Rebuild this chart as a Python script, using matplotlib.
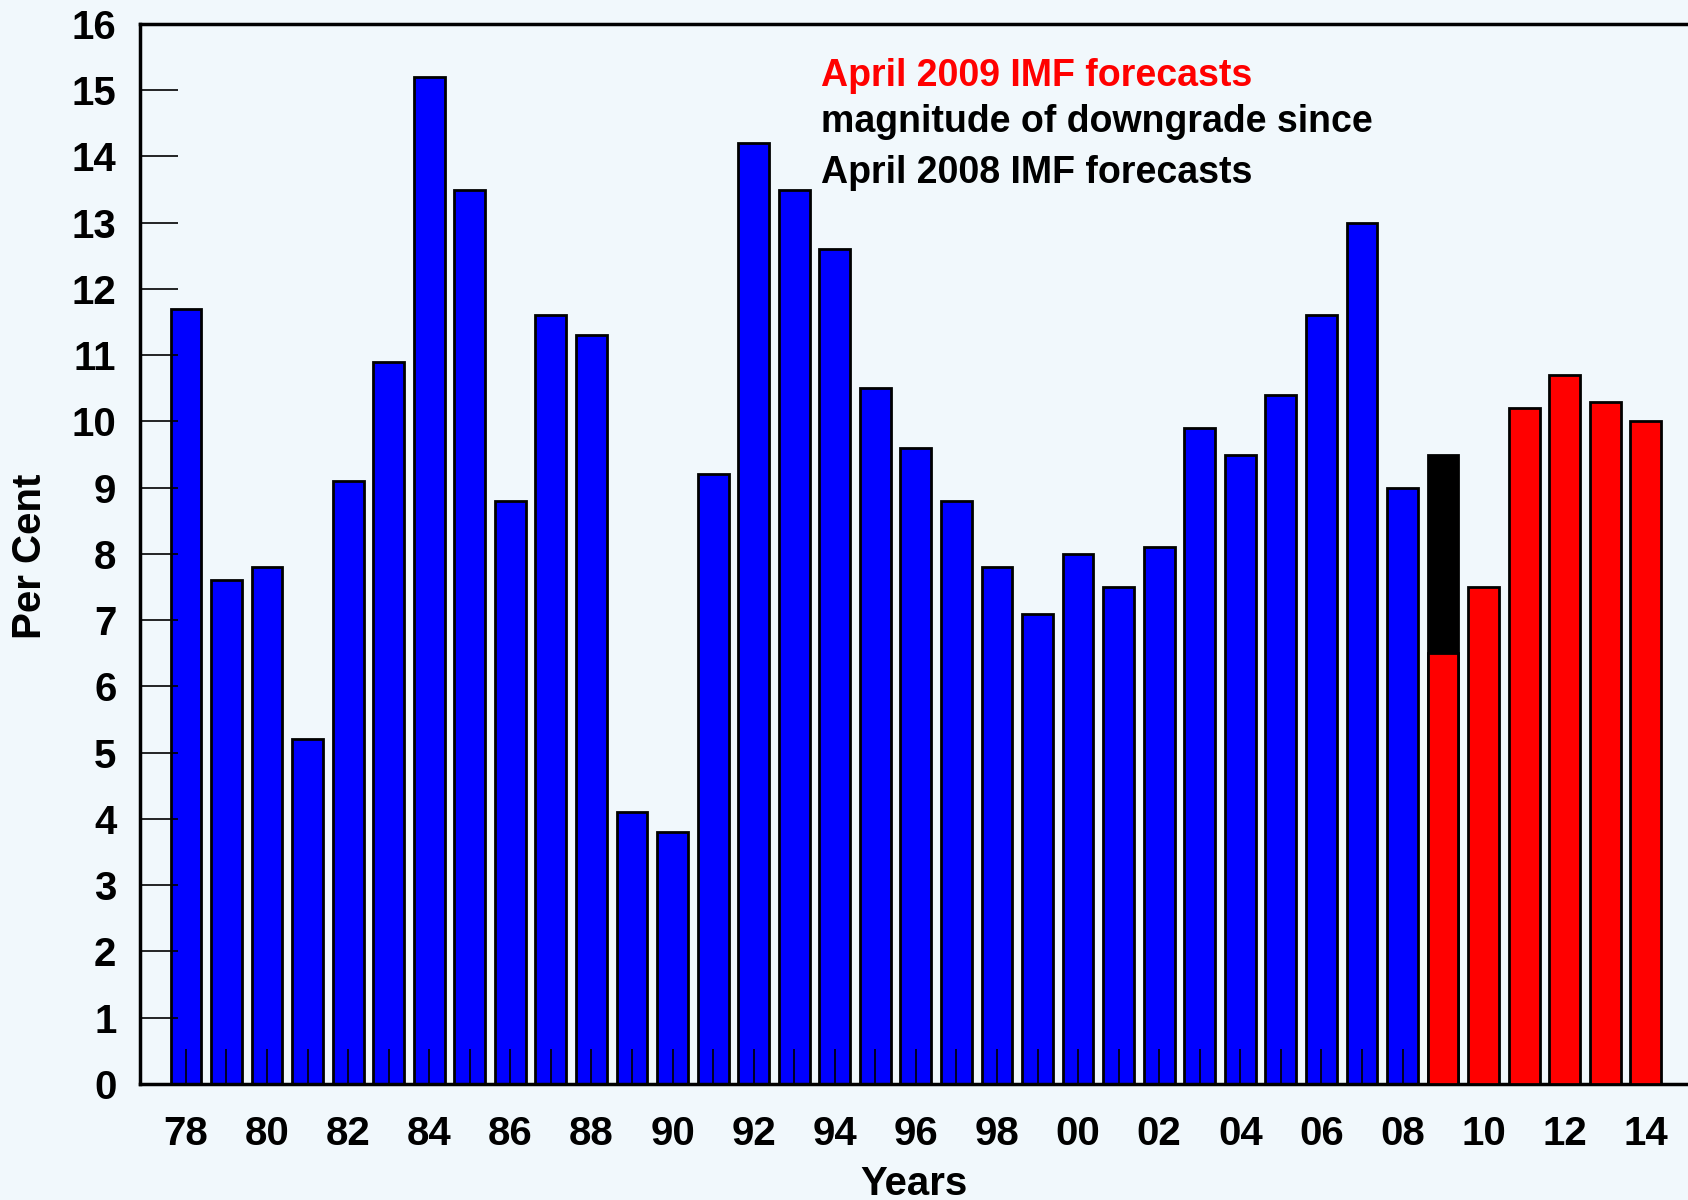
import numpy as np
import matplotlib.pyplot as plt

plt.rcParams['font.family'] = ['Liberation Sans', 'DejaVu Sans']
plt.rcParams['font.weight'] = 'bold'

# actual growth (blue) 1978-2008
years_actual = list(range(1978, 2009))
values_actual = [11.7, 7.6, 7.8, 5.2, 9.1, 10.9, 15.2, 13.5, 8.8, 11.6,
                 11.3, 4.1, 3.8, 9.2, 14.2, 13.5, 12.6, 10.5, 9.6, 8.8,
                 7.8, 7.1, 8.0, 7.5, 8.1, 9.9, 9.5, 10.4, 11.6, 13.0, 9.0]

# April 2009 IMF forecasts (red) 2009-2014
years_forecast = list(range(2009, 2015))
values_forecast = [6.5, 7.5, 10.2, 10.7, 10.3, 10.0]

# April 2008 IMF forecast for 2009 (downgrade shown in black)
year_old = 2009
value_old = 9.5

tick_years = list(range(1978, 2015, 2))
tick_labels = ['%02d' % (y % 100) for y in tick_years]

bg = '#f1f8fc'
fig = plt.figure(figsize=(16.88, 12), dpi=100, facecolor=bg)
ax = fig.add_axes([0.083, 0.0967, 0.917, 0.8833])
ax.set_facecolor(bg)

w = 0.76
ax.bar(years_actual, values_actual, width=w, color='#0000ff', edgecolor='black', linewidth=2, zorder=2)
ax.bar(year_old, value_old, width=w, color='black', edgecolor='black', linewidth=2, zorder=2)
ax.bar(years_forecast, values_forecast, width=w, color='#ff0000', edgecolor='black', linewidth=2, zorder=3)

ax.set_xlim(1976.87, 2015.04)
ax.set_ylim(0, 16)
ax.set_yticks(range(0, 17))
ax.set_xticks(tick_years)
ax.set_xticklabels(tick_labels)
ax.set_xticks(range(1978, 2015), minor=True)

ax.tick_params(axis='y', direction='in', length=27, width=1.2, labelsize=29, pad=17)
ax.tick_params(axis='x', which='both', direction='in', length=25, width=1.2, labelsize=29, pad=22)
for lbl in ax.get_xticklabels() + ax.get_yticklabels():
    lbl.set_fontweight('bold')
for t in ax.xaxis.get_ticklines() + ax.xaxis.get_minorticklines():
    t.set_zorder(5)

ax.spines['right'].set_visible(False)
for s in ['left', 'top', 'bottom']:
    ax.spines[s].set_linewidth(2.5)
ax.set_axisbelow(False)

ax.set_xlabel('Years', fontsize=29, fontweight='bold', labelpad=9)
fig.text(30 / 1688, 1 - 556 / 1200, 'Per Cent', rotation=90, fontsize=29,
         fontweight='bold', ha='center', va='center')

fig.text(821 / 1688, 1 - 76 / 1200, 'April 2009 IMF forecasts', color='#ff0000',
         fontsize=27, fontweight='bold', va='center', ha='left')
fig.text(821 / 1688, 1 - 122 / 1200, 'magnitude of downgrade since', color='black',
         fontsize=27, fontweight='bold', va='center', ha='left')
fig.text(821 / 1688, 1 - 173 / 1200, 'April 2008 IMF forecasts', color='black',
         fontsize=27, fontweight='bold', va='center', ha='left')

fig.savefig('out.png', dpi=100, facecolor=bg)
